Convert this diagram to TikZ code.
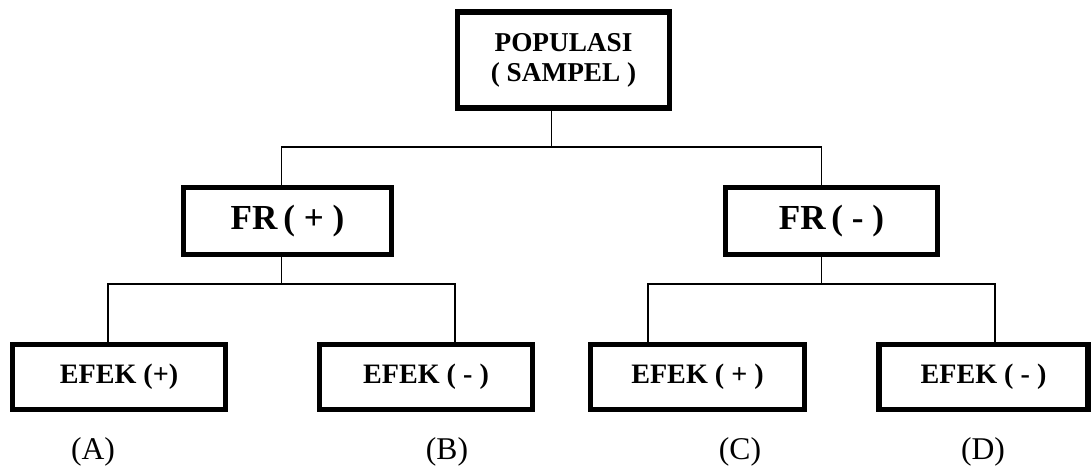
\documentclass[tikz,border=0pt]{standalone}
\usepackage{fontspec}
\setmainfont{Liberation Serif}
\usetikzlibrary{calc}

\begin{document}
\begin{tikzpicture}[
    box/.style={draw,line width=3pt,inner sep=0pt,font=\bfseries},
    link/.style={line width=0.8pt},
    caselabel/.style={font=\fontsize{18}{20}\selectfont}]
  \useasboundingbox (0,0) rectangle (21.82,9.42);
  % Population box
  \node[box,minimum width=4.25cm,minimum height=1.92cm,align=center,
    font=\fontsize{15.5}{17}\selectfont\bfseries] (pop) at (11.27,8.22)
    {POPULASI\\( SAMPEL )};
  % Risk factor boxes
  \node[box,minimum width=4.15cm,minimum height=1.35cm,
    font=\fontsize{20}{22}\selectfont\bfseries] (frplus) at (5.75,5.0) {FR\,( + )};
  \node[box,minimum width=4.25cm,minimum height=1.35cm,
    font=\fontsize{20}{22}\selectfont\bfseries] (frminus) at (16.63,5.0) {FR\,( - )};
  % Effect boxes
  \node[box,minimum width=4.27cm,minimum height=1.3cm,
    font=\fontsize{16}{18}\selectfont\bfseries] (efA) at (2.38,1.88) {EFEK (+)};
  \node[box,minimum width=4.27cm,minimum height=1.3cm,
    font=\fontsize{16}{18}\selectfont\bfseries] (efB) at (8.52,1.88) {EFEK ( - )};
  \node[box,minimum width=4.27cm,minimum height=1.3cm,
    font=\fontsize{16}{18}\selectfont\bfseries] (efC) at (13.95,1.88) {EFEK ( + )};
  \node[box,minimum width=4.18cm,minimum height=1.3cm,
    font=\fontsize{16}{18}\selectfont\bfseries] (efD) at (19.67,1.88) {EFEK ( - )};
  % Case labels
  \node[caselabel] (labA) at (1.86,0.38) {(A)};
  \node[caselabel] (labB) at (8.94,0.38) {(B)};
  \node[caselabel] (labC) at (14.8,0.38) {(C)};
  \node[caselabel] (labD) at (19.66,0.38) {(D)};
  % Branch points
  \coordinate (jA) at (2.16,3.74);
  \coordinate (jB) at (9.10,3.74);
  \coordinate (jC) at (12.96,3.74);
  \coordinate (jD) at (19.90,3.74);
  \coordinate (jP) at ($(jA)!0.5!(jB)+(0,2.74)$);
  \coordinate (jM) at ($(jC)!0.5!(jD)+(0,2.74)$);
  \coordinate (jT) at ($(jP)!0.5!(jM)$);
  % Upper tree
  \draw[link] (jT |- pop.south) -- (jT);
  \draw[link] (jP |- frplus.north) -- (jP) -- (jM) -- (jM |- frminus.north);
  % Lower tree
  \draw[link] (jP |- frplus.south) -- (jP |- jA);
  \draw[link] (jA |- efA.north) -- (jA) -- (jB) -- (jB |- efB.north);
  \draw[link] (jM |- frminus.south) -- (jM |- jC);
  \draw[link] (jC |- efC.north) -- (jC) -- (jD) -- (jD |- efD.north);
\end{tikzpicture}
\end{document}
